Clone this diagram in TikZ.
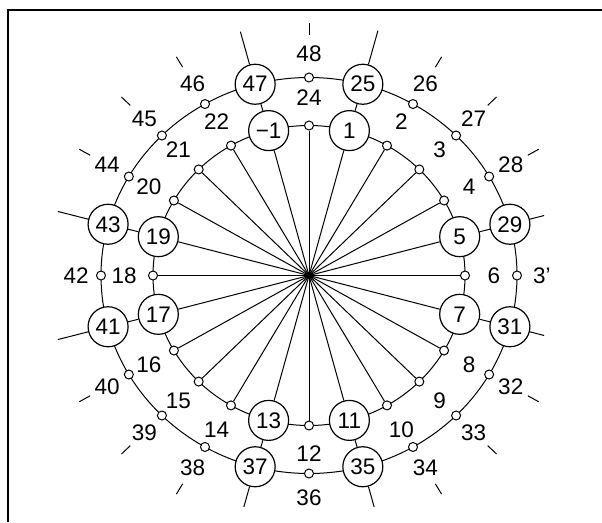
\documentclass[tikz,border=0pt]{standalone}
\usepackage{fontspec}
\setmainfont{Liberation Sans}
\begin{document}
\begin{tikzpicture}[x=1pt,y=-1pt, line width=1pt,
  big/.style={circle,draw,fill=white,line width=1.2pt,minimum size=40pt,inner sep=0pt,font=\fontsize{22.5}{22.5}\selectfont},
  sml/.style={circle,draw,fill=white,line width=1pt,minimum size=9pt,inner sep=0pt},
  lbl/.style={inner sep=0pt,font=\fontsize{22.5}{22.5}\selectfont},
  tickline/.style={line width=1pt}]
\useasboundingbox (0,0) rectangle (602,522);
\draw[line width=1.6pt] (8,522) -- (8,10) -- (602,10);
\coordinate (c) at (309,275.5);
% rings
\draw (c) ellipse [x radius=156pt, y radius=150pt];
\draw (c) ellipse [x radius=208pt, y radius=198pt];
% nodes
\foreach \k/\il/\ol/\b in {0/24/48/0, 1/1/25/1, 2/2/26/0, 3/3/27/0, 4/4/28/0, 5/5/29/1,
  6/6/{3'}/0, 7/7/31/1, 8/8/32/0, 9/9/33/0, 10/10/34/0, 11/11/35/1, 12/12/36/0,
  13/13/37/1, 14/14/38/0, 15/15/39/0, 16/16/40/0, 17/17/41/1, 18/18/42/0,
  19/19/43/1, 20/20/44/0, 21/21/45/0, 22/22/46/0, 23/−1/47/1} {
  \pgfmathsetmacro\a{90-15*\k}
  \ifnum\b=1
    \node[big] (i\k) at ({309+156*cos(\a)},{275.5-150*sin(\a)}) {\il};
    \node[big] (o\k) at ({309+208*cos(\a)},{275.5-198*sin(\a)}) {\ol};
  \else
    \node[sml] (i\k) at ({309+156*cos(\a)},{275.5-150*sin(\a)}) {};
    \node[sml] (o\k) at ({309+208*cos(\a)},{275.5-198*sin(\a)}) {};
    \node[lbl] (li\k) at ({309+156*1.185*cos(\a)},{275.5-150*1.185*sin(\a)}) {\il};
    \node[lbl] (lo\k) at ({309+208*1.12*cos(\a)},{275.5-198*1.12*sin(\a)}) {\ol};
  \fi
  \draw (c) -- (i\k);
}
% inner-outer connectors and outward lines of big nodes
\foreach \k/\f in {1/1.28, 5/1.17, 7/1.17, 11/1.21, 13/1.21, 17/1.25, 19/1.25, 23/1.275} {
  \pgfmathsetmacro\a{90-15*\k}
  \coordinate (t\k) at ({309+208*\f*cos(\a)},{275.5-198*\f*sin(\a)});
  \draw (i\k) -- (o\k);
  \draw (o\k) -- (t\k);
}
% short ticks beyond small outer nodes
\foreach \k in {0,2,3,4,8,9,10,14,15,16,20,21,22} {
  \pgfmathsetmacro\a{90-15*\k}
  \coordinate (ta\k) at ({309+208*1.215*cos(\a)},{275.5-198*1.215*sin(\a)});
  \coordinate (tb\k) at ({309+208*1.275*cos(\a)},{275.5-198*1.275*sin(\a)});
  \draw[tickline] (ta\k) -- (tb\k);
}
\fill (c) circle (3.5pt);
\end{tikzpicture}
\end{document}
